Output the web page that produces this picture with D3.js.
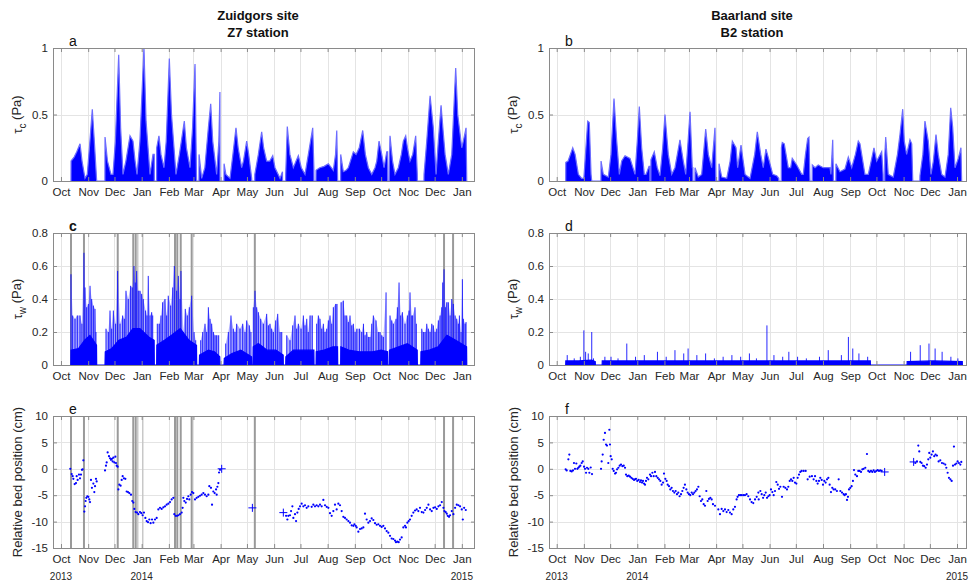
<!DOCTYPE html>
<meta charset="utf-8">
<script src="https://d3js.org/d3.v7.min.js"></script>
<style>
body { margin: 0; background: #fff; font-family: "Liberation Sans", Arial, sans-serif; }
.tick text { fill: #262626; }
</style>
<body>
<script>
// x axis ticks / labels
var monthTicks = ["2013-10-01","2013-11-01","2013-12-01","2014-01-01","2014-02-01","2014-03-01","2014-04-01","2014-05-01",
                  "2014-06-01","2014-07-01","2014-08-01","2014-09-01","2014-10-01","2014-11-01","2014-12-01","2015-01-01"];
var monthLabels = ["Oct","Nov","Dec","Jan","Feb","Mar","Apr","May","Jun","Jul","Aug","Sep","Oct","Noc","Dec","Jan"];
var yearTicks = ["2013-10-01","2014-01-01","2015-01-01"];
var yearLabels = ["2013","2014","2015"];

var tauTicks = [0, 0.5, 1];
var twTicks = [0, 0.2, 0.4, 0.6, 0.8];
var bedTicks = [-15, -10, -5, 0, 5, 10];

// all series: [days since 1 Oct 2013, value]
var tauC_Z = [[11.4,0],[11.5,0.15],[15,0.18],[18,0.22],[21.7,0.28],[24,0.15],[27.4,0.02],[30,0.05],[33,0.3],[35.7,0.54],[38,0.3],[40.5,0.02],[40.7,0],[50.1,0],
  [50.2,0.33],[53,0.15],[57,0.05],[59.3,0.05],[62,0.3],[65.8,0.95],[68,0.4],[70.7,0.05],[74,0.15],[78.7,0.34],[82.1,0.3],[84.5,0.15],[86.7,0.05],[90,0.3],[94.6,1.0],
  [97,0.45],[101.5,0.05],[104.9,0.2],[106.3,0.2],[106.4,0],[109,0],[109.1,0.25],[111.7,0.34],[114,0.2],[117.4,0.1],[120,0.3],[123.5,0.92],[126,0.5],[131.1,0.05],
  [135,0.2],[140.6,0.45],[143,0.25],[147.1,0.1],[150,0.4],[152.8,0.88],[154.5,0.02],[154.7,0],[157.3,0],[157.4,0.2],[160.4,0.02],[164,0.1],[168,0.4],[170.7,0.58],
  [173,0.3],[177.5,0.05],[180,0.3],[181.2,0.67],[181.3,0],[185.8,0],[185.9,0.13],[188,0.05],[192.7,0.02],[196,0.2],[199.5,0.4],[202,0.25],[206,0.1],[208,0.15],
  [211.7,0.3],[214,0.2],[217.4,0.02],[217.5,0],[220.9,0],[221,0.05],[225,0.2],[228.8,0.37],[231,0.25],[234.5,0.15],[238,0.15],[241.4,0.19],[244,0.1],[249.7,0.02],
  [252.5,0.07],[252.6,0],[256.1,0],[256.2,0.05],[258,0.41],[261,0.2],[264.9,0.1],[268,0.15],[270.6,0.19],[274,0.1],[278.2,0.05],[282,0.2],[287,0.4],[288.3,0.1],
  [288.4,0],[290.7,0],[290.8,0.08],[295,0.1],[300,0.11],[304.8,0.13],[310.5,0.08],[313,0.2],[314.4,0.38],[315.3,0.05],[315.4,0],[318.8,0],[318.9,0.2],[321.9,0.07],
  [325,0.08],[327.6,0.1],[333.3,0.22],[336.4,0.2],[340,0.25],[344,0.38],[347,0.2],[350.4,0.1],[354.3,0.05],[358,0.1],[360,0.15],[362.6,0.3],[365.7,0.2],[368.3,0.1],
  [371.4,0.22],[372.4,0.22],[372.5,0],[374.2,0],[374.3,0.1],[375.1,0.34],[378,0.15],[380.8,0.05],[384.6,0.1],[388,0.2],[390.3,0.3],[393,0.34],[395,0.25],[397.9,0.15],
  [401,0.2],[404.4,0.34],[406.2,0.05],[406.3,0],[413.8,0],[413.9,0.05],[417,0.3],[420.8,0.64],[424.5,0.4],[427.6,0.05],[430.2,0.3],[433.3,0.57],[436,0.35],[437.9,0.2],
  [441.6,0.05],[445.5,0.2],[450,0.85],[452.3,0.5],[456.9,0.25],[458.7,0.3],[461.8,0.4],[462.6,0]];

var tauC_B = [[10.3,0],[10.4,0.14],[13,0.15],[18.3,0.25],[21,0.2],[24.7,0.05],[28.5,0.02],[31,0.02],[35.4,0.45],[37.2,0.44],[39.2,0.05],[40,0],[50.5,0],
  [50.6,0.15],[53.2,0.05],[58.9,0.03],[62,0.2],[65.4,0.62],[68.5,0.3],[71.5,0.05],[74.2,0.15],[78,0.19],[83.7,0.17],[89.4,0.05],[92,0.3],[94.3,0.56],[97,0.25],
  [100,0.05],[102,0.05],[105.4,0.11],[106.3,0.11],[106.4,0],[107.5,0],[107.6,0.16],[111.4,0.22],[114.8,0.1],[117.9,0.04],[121,0.25],[123.6,0.5],[127.4,0.2],
  [131.3,0.05],[135,0.1],[140.7,0.31],[144.5,0.15],[147.3,0.05],[150,0.3],[152.2,0.52],[154.8,0.1],[155.4,0.1],[155.5,0],[157.8,0],[157.9,0.1],[161.6,0.03],
  [165.5,0.05],[170.1,0.39],[173.1,0.2],[176.9,0.1],[180.7,0.4],[181.6,0.05],[181.7,0],[185.2,0],[185.3,0.13],[188.4,0.03],[194.1,0.02],[198,0.15],[200.5,0.3],
  [204.7,0.25],[206.6,0.1],[210.4,0.27],[215,0.05],[220.7,0.02],[226,0.2],[229,0.37],[232.9,0.2],[235.8,0.1],[238.9,0.24],[242.7,0.15],[246.6,0.05],[251.1,0.04],
  [253.5,0.02],[253.6,0],[256.4,0],[256.5,0.25],[257.5,0.29],[259.8,0.28],[264.4,0.1],[267.1,0.1],[268.9,0.17],[274,0.12],[279.7,0.05],[281.5,0.05],[284,0.2],
  [286.5,0.32],[288,0.33],[289,0.02],[289.1,0],[291.7,0],[291.8,0.12],[294.9,0.1],[298.6,0.12],[304.3,0.1],[312,0.1],[313.1,0.05],[315.1,0.31],[315.8,0.05],
  [315.9,0],[318.7,0],[318.8,0.13],[323.4,0.07],[329.1,0.09],[332.9,0.18],[336.8,0.1],[341,0.2],[344.3,0.3],[346.2,0.28],[351.9,0.05],[355.7,0.05],[359,0.15],
  [362.2,0.25],[365.3,0.15],[371,0.22],[372.6,0.05],[372.7,0],[374.5,0],[374.6,0.2],[375.6,0.33],[378.5,0.05],[384.2,0.03],[389,0.2],[391.9,0.35],[395,0.54],
  [396.8,0.3],[399.5,0.2],[403.3,0.31],[405.3,0.28],[406.4,0.02],[406.5,0],[414.6,0],[414.7,0.04],[418,0.2],[420.4,0.45],[424.2,0.3],[427.3,0.05],[430,0.15],
  [433,0.35],[435.6,0.2],[439.5,0.05],[443.3,0.03],[447,0.2],[449.8,0.55],[452.1,0.4],[454.7,0.1],[458.5,0.17],[461.5,0.25],[462.3,0]];

var tauW_Zbase = [[11.4,0],[11.5,0.09],[20,0.1],[27,0.15],[33,0.18],[38,0.14],[40.5,0.12],[40.7,0],[50.2,0],[50.5,0.08],[58,0.1],[66,0.15],[75,0.17],[82,0.22],
  [90,0.22],[100,0.17],[106.2,0.15],[106.4,0],[109.1,0],[109.3,0.12],[118,0.15],[126,0.18],[136,0.22],[146,0.15],[154.5,0.12],[154.7,0],[157.7,0],[158,0.06],[168,0.09],
  [175,0.08],[181,0.05],[181.3,0],[185.9,0],[186.2,0.04],[195,0.07],[205,0.09],[214,0.06],[217.2,0.05],[217.4,0],[218.9,0],[219.2,0.11],[225,0.13],[235,0.09],
  [245,0.09],[253.3,0.06],[253.5,0],[256.2,0],[256.4,0.05],[265,0.09],[275,0.09],[288.3,0.09],[288.5,0],[290.8,0],[291,0.08],[300,0.09],[310,0.11],[315.3,0.11],
  [315.5,0],[318.9,0],[319.1,0.11],[328,0.09],[340,0.08],[355,0.08],[365,0.09],[372.3,0.08],[372.5,0],[374.3,0],[374.5,0.09],[385,0.11],[395,0.13],[406.1,0.09],
  [406.3,0],[410.2,0],[410.4,0.08],[420,0.09],[430,0.11],[440,0.18],[450,0.15],[462.4,0.11],[462.6,0]];

// spike tops, null = data gap
var tauW_Zspikes = [[11.4,0.55],[13.3,0.3],[16,0.28],[18.6,0.3],[21.7,0.3],[23.9,0.25],[26.2,0.68],[27.4,0.47],[29.3,0.35],[31.2,0.37],[33.1,0.48],[35,0.4],
  [36.9,0.36],[38.8,0.34],[39.9,0.2],null,[51.3,0.22],[54,0.2],[55.9,0.33],[57.8,0.22],[59.7,0.33],[62.3,0.25],[64.6,0.57],[67.3,0.25],[70.3,0.3],[72.2,0.28],
  [74.1,0.45],[76.7,0.4],[79.4,0.48],[81.3,0.47],[83.2,0.6],[84.7,0.5],[86.3,0.57],[88.1,0.45],[90.1,0.45],[92,0.43],[93.8,0.4],[96.5,0.33],[98.1,0.3],
  [99.5,0.54],[101.5,0.3],[103.4,0.32],[104.6,0.3],null,[109.8,0.25],[112.1,0.25],[114,0.3],[115.9,0.38],[118.6,0.4],[120.5,0.3],[122.3,0.42],[125.1,0.36],
  [127.4,0.47],[129.2,0.6],[131.9,0.45],[133.8,0.54],[135.7,0.4],[136.8,0.57],[139.5,0.2],[141.7,0.34],[144,0.3],[146.3,0.35],[149,0.42],[151.7,0.2],
  [153.6,0.15],null,[159.3,0.15],[161.6,0.2],[164.2,0.25],[166.1,0.2],[168,0.35],[169.9,0.28],[171.8,0.25],[173.7,0.2],[175.6,0.18],[177.5,0.18],[179.8,0.18],
  null,[187.8,0.13],[190.8,0.2],[193.8,0.3],[196.5,0.22],[198.4,0.2],[200.3,0.25],[204.1,0.22],[207.2,0.25],[209.8,0.2],[211.7,0.27],[214.7,0.24],[216.6,0.2],
  null,[219.3,0.35],[221.2,0.45],[223.1,0.35],[225,0.32],[227.7,0.28],[230.7,0.25],[234.5,0.31],[236.4,0.24],[238.3,0.25],[240.2,0.22],[242.1,0.2],[244.8,0.27],
  [247.1,0.31],[249.7,0.2],[251.7,0.2],null,[257.4,0.18],[261.1,0.15],[264.2,0.24],[266.8,0.3],[268.7,0.22],[270.6,0.25],[273.7,0.22],[276.3,0.3],[278.2,0.24],
  [280.2,0.28],[281.9,0.2],[283.9,0.3],[286.5,0.3],null,[291.5,0.25],[293.4,0.3],[295.3,0.28],[297.3,0.22],[299.1,0.25],[301,0.2],[303,0.22],[304.8,0.27],
  [306.7,0.3],[308.7,0.25],[310.5,0.35],[313.2,0.37],[314.7,0.37],null,[319.3,0.38],[321.9,0.39],[323.8,0.3],[325.8,0.3],[327.6,0.26],[329.5,0.3],[331.5,0.24],
  [333.3,0.25],[335.3,0.2],[337.3,0.22],[340.2,0.22],[342.9,0.2],[344.8,0.25],[346.6,0.18],[348.6,0.2],[350.4,0.17],[352.3,0.17],[354.3,0.25],[356.1,0.3],
  [359.2,0.27],[361.8,0.2],[363.7,0.2],[365.7,0.18],[367.5,0.17],[370.6,0.44],null,[375.1,0.3],[377.1,0.27],[378.9,0.25],[382,0.28],[383.5,0.35],[385.4,0.5],
  [387.3,0.3],[389.2,0.32],[392.2,0.25],[394.9,0.3],[396.8,0.33],[397.9,0.44],[399.9,0.3],[401,0.3],[403.6,0.35],[405.1,0.25],null,[411.3,0.22],[413.1,0.2],
  [415.1,0.2],[417,0.25],[418.8,0.22],[420.8,0.2],[422.7,0.25],[424.5,0.24],[426.5,0.2],[428.4,0.22],[430.2,0.27],[432.2,0.3],[434.1,0.35],[435.2,0.5],
  [436.7,0.58],[438.2,0.35],[439.8,0.38],[441.6,0.38],[443.6,0.3],[445.5,0.4],[447.3,0.37],[449.3,0.3],[451.2,0.28],[453,0.25],[454.2,0.3],[456.1,0.2],
  [457.6,0.52],[458.7,0.28],[460.7,0.25],[461.8,0.26]];

var tauW_Bbase = [[10.3,0],[10.4,0.025],[25,0.025],[40,0.03],[44,0.02],[44.1,0],[51.9,0],[52,0.025],[100,0.025],[150,0.025],[200,0.025],[250,0.025],[300,0.025],
  [358,0.025],[358.1,0],[400,0],[400.1,0.02],[430,0.025],[463,0.02],[463.1,0]];
var tauW_Bspikes = [[12,0.06],[20,0.04],[27,0.05],[31,0.21],[33,0.08],[36,0.07],[40,0.2],[42,0.04],[55,0.05],[62,0.05],[70,0.04],[80,0.13],[90,0.05],
  [100,0.06],[115,0.08],[125,0.05],[135,0.09],[145,0.07],[150,0.1],[160,0.06],[170,0.07],[180,0.04],[190,0.05],[200,0.06],[210,0.05],[220,0.07],[228,0.04],
  [240,0.24],[248,0.06],[258,0.05],[265,0.08],[275,0.05],[285,0.04],[300,0.05],[310,0.09],[325,0.06],[333,0.17],[338,0.1],[345,0.07],[355,0.05],[404,0.08],
  [415,0.12],[425,0.13],[432,0.1],[440,0.08],[450,0.05],[458,0.04]];

var bedZ = [[10.6,0],[12.2,-1.0],[13.3,-1.4],[14.1,-1.9],[15.6,-2.9],[17.1,-2.7],[17.9,-1.4],[19,-2.1],[20.5,-1.1],[21.7,-1.8],[22.8,-1.1],[23.9,-0.2],
  [24.7,-0.1],[25.5,1.6],[26.6,-8.1],[27.4,-7.1],[28.1,-6.1],[28.9,-5.5],[30,-5.2],[31.2,-5.3],[32.3,-5.8],[33.1,-6.3],[34.2,-2.1],[35.3,-3.6],[36.9,-2.8],
  [38,-4.4],[38.8,-3.3],[39.9,-1.9],[40.7,-2.4],[50.2,-0.3],[51.3,0.6],[52.1,1.2],[53.2,3.1],[54.7,2.4],[55.9,2.0],[57,1.7],[58.2,1.9],[58.9,1.4],[59.7,2.1],
  [60.8,1.2],[62,2.3],[62.7,1.1],[63.5,0.6],[64.6,0.4],[65.4,-3.9],[66.5,-3.0],[68,-3.2],[69.2,-2.1],[70.3,-1.4],[71.8,-1.8],[73.4,-1.9],[74.9,-4.3],[76.4,-4.4],
  [77.9,-4.6],[79.8,-4.9],[81.3,-6.1],[82.5,-6.4],[83.6,-7.6],[85.1,-8.2],[86.7,-8.3],[88.2,-8.6],[90.1,-8.2],[91.6,-8.4],[93.1,-8.8],[94.6,-8.3],[96.2,-9.3],
  [97.7,-9.9],[99.2,-10.1],[100.7,-9.6],[102.2,-10.3],[103.8,-9.6],[105.3,-10.2],[107.2,-9.6],[109.1,-9.3],[111,-7.7],[112.9,-7.4],[114.8,-7.6],[116.7,-7.3],
  [118.6,-7.1],[120.5,-6.8],[122.4,-6.6],[124.3,-6.3],[126.2,-5.8],[128.1,-5.5],[129.2,-8.6],[130.7,-8.9],[132.3,-8.9],[133.8,-8.8],[135.7,-8.6],[137.6,-8.3],
  [138.7,-7.4],[139.5,-5.5],[140.6,-6.1],[142.2,-6.4],[143.7,-5.7],[145.2,-5.2],[146.3,-5.8],[147.9,-4.9],[149.4,-4.4],[150.9,-4.6],[152.8,-5.8],[154.7,-5.5],
  [156.6,-5.3],[158.5,-5.1],[160.4,-4.9],[162.3,-4.6],[164.2,-4.9],[166.1,-5.2],[168,-4.9],[169.1,-3.3],[171,-3.6],[172.2,-6.8],[173.7,-4.3],[175.2,-4.6],
  [176.8,-3.9],[177.5,-4.9],[178.3,-3.4],[179.4,-2.7],[180.2,-0.7],[181.3,-0.2],[256.6,-8.9],[258.1,-9.6],[259.2,-8.9],[261.1,-8.8],[262.3,-8.0],[263.8,-7.1],
  [264.9,-9.3],[266.8,-8.6],[268,-9.9],[269.5,-8.3],[271,-7.6],[272.5,-7.1],[274.4,-6.6],[276.3,-7.1],[278.2,-6.9],[280.1,-7.4],[282,-7.1],[285.8,-7.2],
  [287.7,-6.8],[289.6,-7.1],[291.5,-6.9],[293.4,-7.1],[295.3,-6.8],[297.2,-7.1],[299.1,-5.9],[301,-6.9],[302.9,-7.2],[304.8,-7.4],[306.7,-8.4],[308.6,-8.9],
  [310.5,-8.0],[312.4,-6.8],[314.3,-7.7],[316.2,-6.6],[318.1,-6.9],[320,-8.0],[321.9,-9.1],[323.8,-9.3],[325.7,-9.6],[327.6,-9.9],[329.5,-10.2],[331.4,-10.7],
  [333.3,-10.8],[334.5,-10.5],[336,-10.8],[337.1,-11.1],[339,-11.9],[340.9,-11.4],[342.8,-11.3],[344.7,-11.1],[346.6,-8.5],[348.5,-9.6],[350.4,-10.2],
  [352.3,-9.9],[354.2,-9.4],[356.1,-9.7],[358,-10.3],[359.9,-10.6],[361.8,-10.5],[363.7,-10.8],[365.6,-11.0],[367.5,-10.8],[369.4,-11.3],[371.3,-11.8],
  [373.2,-12.1],[375.1,-12.7],[377,-13.2],[378.9,-13.3],[380.8,-13.6],[381.9,-13.9],[383.5,-13.8],[385,-13.9],[386.5,-13.4],[388.4,-13.0],[390.3,-11.1],
  [392.2,-10.8],[393.3,-11.1],[394.9,-10.2],[396.4,-9.9],[397.9,-9.6],[399.8,-8.9],[401.7,-8.3],[403.6,-7.9],[405.5,-7.7],[407.4,-8.0],[409.3,-7.4],[411.3,-8.2],
  [413.2,-8.3],[415.1,-7.8],[417,-7.4],[418.9,-6.8],[420.8,-7.7],[422.7,-8.0],[424.6,-7.4],[426.5,-7.3],[428.4,-7.6],[430.3,-7.1],[432.2,-6.9],[434.1,-6.3],
  [436,-7.4],[437.1,-8.0],[438.6,-8.2],[439.8,-8.5],[440.9,-8.9],[442.4,-9.1],[443.6,-8.8],[445.5,-8.0],[447.4,-8.6],[449.3,-7.4],[451.2,-6.8],[453.1,-6.9],
  [455,-7.1],[456.9,-7.7],[458.1,-9.6],[459.6,-7.4],[461.5,-7.8]];
var bedZplus = [[183.2,0],[218.2,-7.4],[253.5,-8.3]];

var bedB = [[10.2,-0.1],[11.4,-0.3],[13.3,1.8],[14.4,2.7],[15.6,-0.4],[17.1,-0.5],[18.6,-0.3],[19.7,1.1],[20.9,0],[22.4,1.0],[23.6,0],[24.7,0.2],[25.8,0.4],
  [27,0.6],[28.5,1.1],[29.7,1.4],[31.2,0.4],[32.3,0],[33.5,-0.75],[34.6,0.2],[36.1,0],[37.3,-0.75],[38.8,0.25],[40.3,-1.0],[50.6,0],[51.3,1.4],[52.5,2.7],
  [53.6,5.5],[55.1,6.8],[56.3,4.6],[57.4,4.4],[58.9,1.1],[60.1,7.4],[60.8,4.6],[61.6,2.4],[62.8,1.8],[63.9,0],[65.1,-0.4],[66.6,-0.9],[67.7,-0.75],[68.9,-0.1],
  [70.4,0.2],[71.9,0.6],[73.4,0.8],[75,0.5],[76.5,0.6],[78,0.2],[79.1,-1.1],[80.6,-1.4],[82.2,-1.3],[83.7,-1.5],[85.2,-1.7],[86.7,-1.9],[88.3,-2.1],[89.4,-2.0],
  [90.5,-1.9],[92,-2.3],[93.6,-2.1],[95.1,-2.5],[96.2,-2.2],[97.4,-2.6],[98.5,-2.3],[99.7,-2.8],[100.8,-3.0],[101.9,-2.3],[103.1,-1.7],[104.6,-2.0],[106.5,-1.1],
  [107.7,-1.4],[109.2,-0.75],[110.7,-1.4],[112.2,-0.6],[113.7,-1.4],[115.3,-1.7],[116.8,-2.0],[118.3,-2.3],[119.8,-3.0],[121.4,-2.6],[122.5,-0.9],[124,-1.9],
  [125.5,-2.3],[126.7,-3.0],[128.2,-3.3],[129.7,-3.9],[131.2,-3.6],[132.7,-4.2],[134.3,-4.5],[135.8,-4.2],[137.3,-4.8],[138.8,-4.5],[140.3,-5.2],[141.9,-4.8],
  [143.4,-4.2],[144.9,-3.6],[146.4,-3.0],[148,-3.9],[149.5,-4.5],[151,-4.8],[152.5,-5.0],[154.1,-4.5],[155.6,-4.8],[157.1,-4.5],[158.6,-4.2],[160.1,-3.9],
  [161.7,-3.4],[163.2,-5.2],[164.7,-6.1],[166.2,-5.8],[167.8,-6.7],[169.3,-7.0],[170.8,-4.2],[172.3,-6.1],[173.8,-5.7],[175.4,-5.5],[176.9,-5.8],[178.4,-6.7],
  [180.7,-7.0],[184.5,-7.7],[186.4,-8.6],[188.3,-7.6],[190.2,-8.0],[192.1,-7.7],[194,-8.2],[195.9,-7.8],[197.8,-8.3],[199.7,-8.6],[201.6,-7.7],[203.5,-7.2],
  [205.4,-5.8],[206.5,-5.3],[208,-5.0],[209.6,-5.0],[211.1,-5.0],[213,-5.0],[214.9,-5.0],[216.8,-4.8],[218.7,-5.2],[220.7,-5.8],[222.5,-6.3],[224.4,-6.5],
  [226.4,-5.8],[228.3,-5.3],[230.2,-4.5],[230.6,-5.8],[232.5,-4.2],[234,-4.8],[235.6,-5.5],[237,-5.0],[238.6,-4.5],[240.1,-5.5],[241.6,-5.2],[243.1,-5.0],
  [244.6,-3.9],[246.2,-4.4],[247.7,-5.0],[249.2,-4.2],[250.7,-2.5],[252.3,-3.0],[253.8,-3.8],[255.3,-3.4],[257.2,-5.3],[259.1,-3.4],[261,-3.6],[262.9,-3.9],
  [264.4,-3.4],[266,-2.3],[267.5,-2.0],[269,-2.3],[270.5,-1.7],[272,-2.6],[273.6,-2.8],[275.1,-1.7],[276.6,-1.1],[278.1,-0.6],[279.6,-0.4],[281.9,-0.4],
  [284.2,-0.4],[286.5,-2.0],[288.8,-1.5],[291.4,-1.4],[293.3,-2.0],[294.9,-1.4],[296.4,-2.3],[297.9,-2.8],[299.4,-2.3],[300.9,-1.7],[302.5,-2.1],[304,-3.0],
  [305.5,-2.3],[307,-2.6],[308.6,-2.0],[310.1,-1.7],[311.6,-3.0],[313.1,-4.4],[314.6,-3.6],[316.1,-3.9],[318,-3.9],[319.9,-4.2],[321.9,-2.0],[323.8,-4.2],
  [325.7,-4.5],[327.6,-4.8],[328.7,-5.0],[330.2,-4.8],[331.4,-5.9],[332.5,-5.3],[333.7,-3.9],[335.2,-3.6],[336.7,-3.3],[338.2,-2.3],[339.4,-0.25],[340.9,-1.1],
  [342.8,-1.4],[344.3,-0.4],[345.8,-0.4],[347.4,-0.6],[348.9,-0.1],[350.4,0],[352.3,0.2],[354.2,2.8],[355.7,-0.4],[357.2,-0.6],[358.8,-0.4],[360.3,-0.6],
  [361.8,-0.3],[363.3,-0.6],[364.9,-0.4],[366.4,-0.25],[367.9,-0.4],[369.4,-0.3],[371,-0.4],[409.4,1.1],[411.3,1.4],[412.8,4.4],[413.9,3.3],[415.1,1.3],
  [416.6,1.1],[418.1,0.6],[419.6,0.5],[421.2,0.2],[422.7,0.8],[424.2,1.8],[425.3,3.0],[426.5,2.1],[428,2.7],[429.5,3.3],[431,2.4],[432.5,2.7],[434.1,2.5],
  [436,1.4],[437.9,1.6],[439.8,1.1],[441.7,1.0],[443.6,0.8],[444.8,0.2],[446.3,-0.75],[447.8,-1.7],[449.4,-2.0],[450.9,-2.3],[452.4,0.6],[453.5,4.2],[454.7,0.8],
  [456.2,1.0],[457.7,1.4],[459.2,1.1],[460.8,0.8],[461.9,1.3]];
var bedBplus = [[374.4,-0.6],[407.5,1.3]];

// gray vertical lines (Zuidgors), days since 1 Oct 2013
var gapZ = [11.4, 26.2, 64.7, 82.4, 85.2, 130, 132.6, 136.5, 149, 221, 436.7, 447];
var gapZfaint = [87.5, 93.2];

var parse = d3.utcParse("%Y-%m-%d");
var origin = Date.UTC(2013, 9, 1);
function dd(d) { return new Date(origin + d * 864e5); }

var svg = d3.select("body").append("svg").attr("width", 971).attr("height", 583);

var cols = [{x0: 53, x1: 475, lim: [-9.1, 472]}, {x0: 549, x1: 967, lim: [-8.8, 468.4]}];
var rows = [{y0: 48, y1: 181}, {y0: 233, y1: 365}, {y0: 416, y1: 548}];
var axisColor = "#8a8a8a";
var blue = "#0000ff";

function makePanel(ci, ri, ydom, yticks, letter, ylabel) {
  var c = cols[ci], r = rows[ri];
  var x = d3.scaleUtc().domain([dd(c.lim[0]), dd(c.lim[1])]).range([c.x0, c.x1]);
  var y = d3.scaleLinear().domain(ydom).range([r.y1, r.y0]);
  var g = svg.append("g");
  var clipId = "clip" + ci + ri;
  svg.append("clipPath").attr("id", clipId).append("rect")
    .attr("x", c.x0).attr("y", r.y0).attr("width", c.x1 - c.x0).attr("height", r.y1 - r.y0);

  // grid
  var grid = g.append("g").attr("stroke", "#e4e4e4").attr("stroke-width", 1);
  grid.selectAll(".vx").data(monthTicks).enter().append("line")
    .attr("x1", function(d) { return Math.round(x(parse(d))) + 0.5; })
    .attr("x2", function(d) { return Math.round(x(parse(d))) + 0.5; })
    .attr("y1", r.y0).attr("y2", r.y1);
  grid.selectAll(".hy").data(yticks).enter().append("line")
    .attr("y1", function(d) { return Math.round(y(d)) + 0.5; })
    .attr("y2", function(d) { return Math.round(y(d)) + 0.5; })
    .attr("x1", c.x0).attr("x2", c.x1);

  var data = g.append("g").attr("clip-path", "url(#" + clipId + ")");

  // axes
  var xb = d3.axisBottom(x).tickValues(monthTicks.map(parse))
    .tickFormat(function(d, i) { return monthLabels[i]; }).tickSizeInner(-4).tickSizeOuter(0).tickPadding(7);
  var xt = d3.axisTop(x).tickValues(monthTicks.map(parse)).tickFormat("").tickSizeInner(-4).tickSizeOuter(0);
  var yl = d3.axisLeft(y).tickValues(yticks).tickFormat(function(d) { return String(d); })
    .tickSizeInner(-4).tickSizeOuter(0).tickPadding(5);
  var yr = d3.axisRight(y).tickValues(yticks).tickFormat("").tickSizeInner(-4).tickSizeOuter(0);

  var ax = g.append("g");
  ax.append("g").attr("transform", "translate(0," + r.y1 + ")").call(xb);
  ax.append("g").attr("transform", "translate(0," + r.y0 + ")").call(xt);
  ax.append("g").attr("transform", "translate(" + c.x0 + ",0)").call(yl);
  ax.append("g").attr("transform", "translate(" + c.x1 + ",0)").call(yr);
  ax.selectAll(".domain").remove();
  ax.selectAll(".tick line").attr("stroke", axisColor);
  ax.selectAll(".tick text").attr("font-size", 11.5).attr("font-family", "Liberation Sans, Arial, sans-serif");
  ax.append("rect").attr("x", c.x0 + 0.5).attr("y", r.y0 + 0.5).attr("width", c.x1 - c.x0 - 1).attr("height", r.y1 - r.y0)
    .attr("fill", "none").attr("stroke", axisColor);

  g.append("text").attr("x", c.x0 + 16).attr("y", r.y0 - 2).attr("font-size", 14)
    .attr("font-weight", letter === "c" ? "bold" : "normal").attr("fill", "#111").text(letter);

  var lab = g.append("text").attr("transform", "translate(" + (c.x0 - 31) + "," + ((r.y0 + r.y1) / 2) + ") rotate(-90)")
    .attr("text-anchor", "middle").attr("font-size", 13).attr("fill", "#262626");
  if (ylabel === "bed") {
    lab.text("Relative bed position (cm)");
  } else {
    lab.append("tspan").text("\u03c4");
    lab.append("tspan").attr("dy", "0.35em").attr("font-size", 10).text(ylabel);
    lab.append("tspan").attr("dy", "-0.35em").text(" (Pa)");
  }

  if (ri === 2) {
    g.selectAll(".yr").data(yearTicks).enter().append("text")
      .attr("x", function(d) { return x(parse(d)); }).attr("y", r.y1 + 32)
      .attr("text-anchor", "middle").attr("font-size", 10).attr("fill", "#262626")
      .text(function(d, i) { return yearLabels[i]; });
  }
  return {x: x, y: y, g: data, r: r, c: c};
}

function drawArea(p, series, edge) {
  var area = d3.area().x(function(d) { return p.x(dd(d[0])); }).y0(p.y(0)).y1(function(d) { return p.y(d[1]); });
  var line = d3.line().x(function(d) { return p.x(dd(d[0])); }).y(function(d) { return p.y(d[1]); });
  p.g.append("path").datum(series).attr("d", area).attr("fill", blue);
  p.g.append("path").datum(series).attr("d", line).attr("fill", "none").attr("stroke", edge).attr("stroke-width", 1.2);
}

// light envelope through the spike tops (dense high-frequency record)
function drawEnvelope(p, spikes) {
  var area = d3.area().defined(function(d) { return d !== null; })
    .x(function(d) { return p.x(dd(d[0])); }).y0(p.y(0)).y1(function(d) { return p.y(d[1]); });
  p.g.append("path").datum(spikes).attr("d", area).attr("fill", "#7070ff").attr("fill-opacity", 0.55);
}

function drawSpikes(p, spikes) {
  p.g.selectAll(".sp").data(spikes.filter(function(d) { return d !== null; })).enter().append("line")
    .attr("x1", function(d) { return p.x(dd(d[0])); }).attr("x2", function(d) { return p.x(dd(d[0])); })
    .attr("y1", p.y(0)).attr("y2", function(d) { return p.y(d[1]); })
    .attr("stroke", blue).attr("stroke-opacity", 0.85).attr("stroke-width", 1);
}

function drawGaps(p) {
  p.g.selectAll(".gp").data(gapZ).enter().append("line")
    .attr("x1", function(d) { return p.x(dd(d)); }).attr("x2", function(d) { return p.x(dd(d)); })
    .attr("y1", p.r.y0).attr("y2", p.r.y1).attr("stroke", "#9a9a9a").attr("stroke-width", 2);
  p.g.selectAll(".gf").data(gapZfaint).enter().append("line")
    .attr("x1", function(d) { return p.x(dd(d)); }).attr("x2", function(d) { return p.x(dd(d)); })
    .attr("y1", p.r.y0).attr("y2", p.r.y1).attr("stroke", "#c8c8c8").attr("stroke-width", 1.5);
}

function drawDots(p, pts, plus) {
  p.g.selectAll(".dt").data(pts).enter().append("circle")
    .attr("cx", function(d) { return p.x(dd(d[0])); }).attr("cy", function(d) { return p.y(d[1]); })
    .attr("r", 1.1).attr("fill", blue);
  var pl = p.g.selectAll(".pl").data(plus).enter().append("g")
    .attr("transform", function(d) { return "translate(" + p.x(dd(d[0])) + "," + p.y(d[1]) + ")"; });
  pl.append("line").attr("x1", -4).attr("x2", 4).attr("stroke", blue);
  pl.append("line").attr("y1", -4).attr("y2", 4).attr("stroke", blue);
}

var pa = makePanel(0, 0, [0, 1], tauTicks, "a", "c");
drawArea(pa, tauC_Z, "#6b6bff");
var pb = makePanel(1, 0, [0, 1], tauTicks, "b", "c");
drawArea(pb, tauC_B, "#6b6bff");

var pc = makePanel(0, 1, [0, 0.8], twTicks, "c", "w");
drawGaps(pc);
drawEnvelope(pc, tauW_Zspikes);
drawArea(pc, tauW_Zbase, blue);
drawSpikes(pc, tauW_Zspikes);
var pd = makePanel(1, 1, [0, 0.8], twTicks, "d", "w");
drawArea(pd, tauW_Bbase, blue);
drawSpikes(pd, tauW_Bspikes);

var pe = makePanel(0, 2, [-15, 10], bedTicks, "e", "bed");
drawGaps(pe);
drawDots(pe, bedZ, bedZplus);
var pf = makePanel(1, 2, [-15, 10], bedTicks, "f", "bed");
drawDots(pf, bedB, bedBplus);

// titles
[["Zuidgors site", "Z7 station", 0], ["Baarland site", "B2 station", 1]].forEach(function(t) {
  var cx = (cols[t[2]].x0 + cols[t[2]].x1) / 2 - 6;
  svg.append("text").attr("x", cx).attr("y", 19.5).attr("text-anchor", "middle")
    .attr("font-size", 13).attr("font-weight", "bold").attr("fill", "#111").text(t[0]);
  svg.append("text").attr("x", cx).attr("y", 37).attr("text-anchor", "middle")
    .attr("font-size", 13).attr("font-weight", "bold").attr("fill", "#111").text(t[1]);
});
</script>
</body>
</html>
